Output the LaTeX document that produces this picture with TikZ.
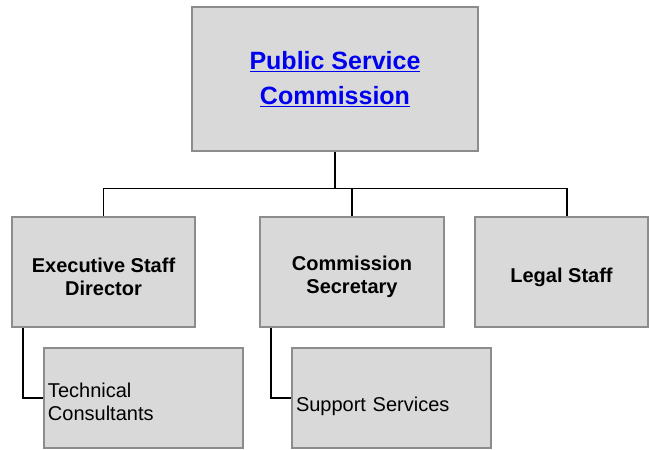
\documentclass[tikz,border=0pt]{standalone}
\usepackage{fontspec}
\setmainfont{Liberation Sans}
\usetikzlibrary{calc,positioning}
\definecolor{boxgray}{HTML}{D9D9D9}
\definecolor{edgegray}{HTML}{8C8C8C}
\definecolor{linkblue}{HTML}{0000F0}
\newcommand\lowstrut[1]{\rule{0pt}{#1}}
\tikzset{
  orgbox/.style={draw=edgegray, line width=2pt, fill=boxgray, inner sep=0pt},
  headbox/.style={orgbox, align=center, font=\bfseries\fontsize{20}{23}\selectfont},
  subbox/.style={orgbox, align=left, font=\fontsize{20}{23}\selectfont},
  link/.style={line width=1.6pt, black}
}

\begin{document}
\begin{tikzpicture}[x=1pt, y=-1pt]
  \useasboundingbox (0,0) rectangle (649,450);

  % commission
  \node [orgbox, minimum width=286pt, minimum height=144pt, align=center,
         text=linkblue, font=\bfseries\fontsize{25}{35}\selectfont]
    (PSC) at (335,79) {\underline{Public Service}\\\underline{Commission}};

  % staff boxes
  \node [headbox, minimum width=183pt, minimum height=110pt]
    (ESD) at (103.5,272) {\lowstrut{24pt}Executive Staff\\Director};
  \node [headbox, minimum width=184pt, minimum height=110pt]
    (CS) at (352,272) {\lowstrut{24pt}Commission\\Secretary};
  \node [headbox, minimum width=173pt, minimum height=110pt]
    (LS) at (561.5,272) {\lowstrut{26pt}Legal Staff};

  % lower boxes
  \node [subbox, minimum width=199pt, minimum height=100pt,
         text width=191pt, inner xsep=4pt]
    (TC) at (143.5,398) {\lowstrut{23pt}Technical\\Consultants};
  \node [subbox, minimum width=199pt, minimum height=100pt,
         text width=191pt, inner xsep=4pt]
    (SS) at (391.5,398) {\lowstrut{31pt}Support Services};

  % bus line
  \coordinate (bus) at (335,188.5);
  \draw [link] (PSC.south) -- (bus);
  \draw [link] (ESD.north) |- ([xshift=5.5pt]LS.north |- bus)
    -- ([xshift=5.5pt]LS.north);
  \draw [link] (CS.north) -- (CS.north |- bus);

  % side links
  \draw [link] ([xshift=12pt]ESD.south west) |- (TC.west);
  \draw [link] ([xshift=12pt]CS.south west) |- (SS.west);
\end{tikzpicture}
\end{document}
